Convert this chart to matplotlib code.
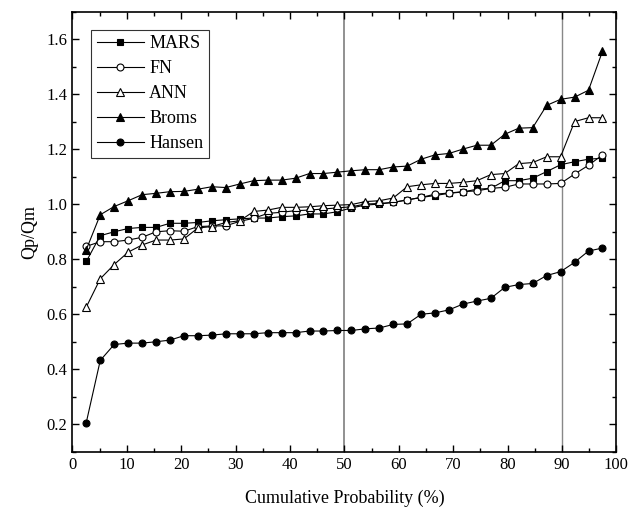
import matplotlib
matplotlib.use('Agg')
import matplotlib.pyplot as plt
from matplotlib.ticker import MultipleLocator

plt.rcParams['font.family'] = ['Liberation Serif', 'DejaVu Serif']

# cumulative probability (%) of the 38 ranked cases
prob = [2.56, 5.13, 7.69, 10.26, 12.82, 15.38, 17.95, 20.51, 23.08, 25.64,
        28.21, 30.77, 33.33, 35.90, 38.46, 41.03, 43.59, 46.15, 48.72, 51.28,
        53.85, 56.41, 58.97, 61.54, 64.10, 66.67, 69.23, 71.79, 74.36, 76.92,
        79.49, 82.05, 84.62, 87.18, 89.74, 92.31, 94.87, 97.44]

mars = [0.792, 0.886, 0.900, 0.912, 0.916, 0.916, 0.931, 0.931, 0.934, 0.940,
        0.944, 0.947, 0.950, 0.950, 0.955, 0.958, 0.965, 0.965, 0.973, 0.987,
        0.997, 1.001, 1.007, 1.016, 1.025, 1.032, 1.040, 1.045, 1.055, 1.058,
        1.086, 1.086, 1.095, 1.119, 1.144, 1.155, 1.164, 1.168]
fn = [0.847, 0.864, 0.864, 0.870, 0.880, 0.900, 0.904, 0.902, 0.919, 0.921,
      0.922, 0.938, 0.949, 0.967, 0.971, 0.977, 0.979, 0.983, 0.987, 0.991,
      1.001, 1.003, 1.007, 1.016, 1.025, 1.037, 1.041, 1.046, 1.049, 1.058,
      1.062, 1.074, 1.074, 1.074, 1.076, 1.110, 1.142, 1.180]
ann = [0.626, 0.729, 0.781, 0.826, 0.852, 0.870, 0.870, 0.874, 0.914, 0.919,
       0.934, 0.940, 0.974, 0.979, 0.989, 0.989, 0.991, 0.995, 0.997, 0.999,
       1.010, 1.013, 1.023, 1.064, 1.071, 1.076, 1.076, 1.080, 1.086, 1.108,
       1.112, 1.148, 1.152, 1.173, 1.173, 1.301, 1.315, 1.315]
broms = [0.835, 0.962, 0.992, 1.013, 1.035, 1.040, 1.046, 1.047, 1.055, 1.064,
         1.061, 1.074, 1.086, 1.088, 1.088, 1.095, 1.112, 1.112, 1.117, 1.122,
         1.126, 1.126, 1.136, 1.139, 1.164, 1.180, 1.185, 1.201, 1.215, 1.215,
         1.255, 1.277, 1.279, 1.360, 1.382, 1.390, 1.415, 1.557]
hansen = [0.206, 0.432, 0.490, 0.495, 0.495, 0.500, 0.506, 0.522, 0.522, 0.524,
          0.529, 0.529, 0.529, 0.533, 0.533, 0.533, 0.539, 0.539, 0.541, 0.541,
          0.547, 0.550, 0.563, 0.565, 0.600, 0.605, 0.616, 0.637, 0.648, 0.658,
          0.698, 0.708, 0.712, 0.741, 0.755, 0.789, 0.830, 0.841]

series = [
    ('MARS', mars, dict(marker='s', mfc='black', ms=4.5)),
    ('FN', fn, dict(marker='o', mfc='white', ms=5)),
    ('ANN', ann, dict(marker='^', mfc='white', ms=5.5)),
    ('Broms', broms, dict(marker='^', mfc='black', ms=5.5)),
    ('Hansen', hansen, dict(marker='o', mfc='black', ms=5)),
]

fig = plt.figure(figsize=(6.29, 5.18), dpi=100)
ax = fig.add_axes([0.115, 0.128, 0.865, 0.849])

ax.axvline(50, color='#888888', lw=1.3, zorder=1)
ax.axvline(90, color='#888888', lw=1.0, zorder=1)

for name, vals, style in series:
    ax.plot(prob, vals, color='black', lw=0.8, mec='black', mew=0.8,
            label=name, zorder=3, **style)

ax.set_xlim(0, 100)
ax.set_ylim(0.1, 1.7)
ax.xaxis.set_major_locator(MultipleLocator(10))
ax.xaxis.set_minor_locator(MultipleLocator(5))
ax.yaxis.set_minor_locator(MultipleLocator(0.1))
ax.set_yticks([0.2, 0.4, 0.6, 0.8, 1.0, 1.2, 1.4, 1.6])
ax.tick_params(which='both', direction='in', top=True, right=True, labelsize=12)
ax.tick_params(which='major', length=5, width=1)
ax.tick_params(which='minor', length=3, width=1)
for sp in ax.spines.values():
    sp.set_linewidth(1.2)

ax.set_xlabel('Cumulative Probability (%)', fontsize=13, labelpad=12)
ax.set_ylabel('Qp/Qm', fontsize=13, labelpad=6)

leg = ax.legend(loc='upper left', bbox_to_anchor=(0.035, 0.96), fontsize=13,
                frameon=True, fancybox=False, edgecolor='black',
                handlelength=2.6, borderpad=0.3, labelspacing=0.45,
                handletextpad=0.3, borderaxespad=0)
leg.get_frame().set_linewidth(0.8)

fig.savefig('out.png', dpi=100)
